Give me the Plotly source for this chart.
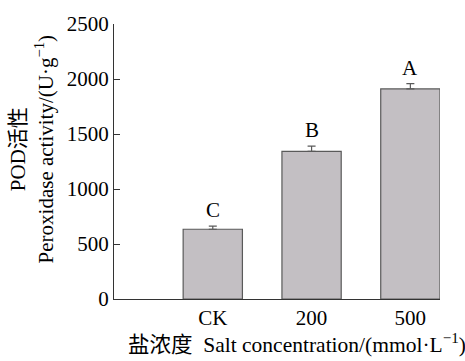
import plotly.graph_objects as go

# Data
categories = ["CK", "200", "500"]
pod_activity = [634, 1342, 1910]
pod_error = [28, 48, 48]
sig_letters = ["C", "B", "A"]

positions = list(range(1, len(categories) + 1))

FONT = "'Liberation Serif', 'Times New Roman', 'Noto Sans CJK SC', serif"

fig = go.Figure()
fig.add_trace(go.Bar(
    x=positions,
    y=pod_activity,
    width=0.6,
    marker=dict(color="#c3bfc3", line=dict(color="#5a5a5a", width=1.2)),
    error_y=dict(type="data", symmetric=False, array=pod_error,
                 arrayminus=[0] * len(pod_error),
                 color="#5a5a5a", thickness=1.2, width=4),
    showlegend=False,
))

# significance letters above the error bars
for p, v, e, t in zip(positions, pod_activity, pod_error, sig_letters):
    fig.add_annotation(x=p, y=v + e, text=t, showarrow=False,
                       xanchor="center", yanchor="bottom", yshift=2,
                       font=dict(family=FONT, size=21, color="black"))

# y-axis title (two lines)
fig.add_annotation(xref="paper", yref="paper", x=-0.252, y=0.547,
                   text="POD活性<br>Peroxidase activity/(U·g<sup>−1</sup>)",
                   textangle=-90, showarrow=False, xanchor="center", yanchor="middle",
                   font=dict(family=FONT, size=21, color="black"))

# x-axis title
fig.add_annotation(xref="paper", yref="paper", x=0.561, y=-0.161,
                   text="盐浓度  Salt concentration/(mmol·L<sup>−1</sup>)",
                   showarrow=False, xanchor="center", yanchor="middle",
                   font=dict(family=FONT, size=21.5, color="black"))

fig.update_layout(
    width=465, height=361,
    margin=dict(l=114, r=25, t=14, b=62),
    paper_bgcolor="white", plot_bgcolor="white",
    font=dict(family=FONT, size=21, color="black"),
    xaxis=dict(range=[0, 3.3], tickvals=positions, ticktext=categories,
               showline=True, linecolor="#333", linewidth=1.2,
               ticks="", showgrid=False, zeroline=False,
               tickfont=dict(family=FONT, size=21)),
    yaxis=dict(range=[0, 2500], tickvals=[0, 500, 1000, 1500, 2000, 2500],
               showline=True, linecolor="#333", linewidth=1.2,
               ticks="inside", ticklen=6, tickcolor="#333", tickwidth=1.2,
               showgrid=False, zeroline=False,
               tickfont=dict(family=FONT, size=21)),
)

fig.write_html("out.html")
